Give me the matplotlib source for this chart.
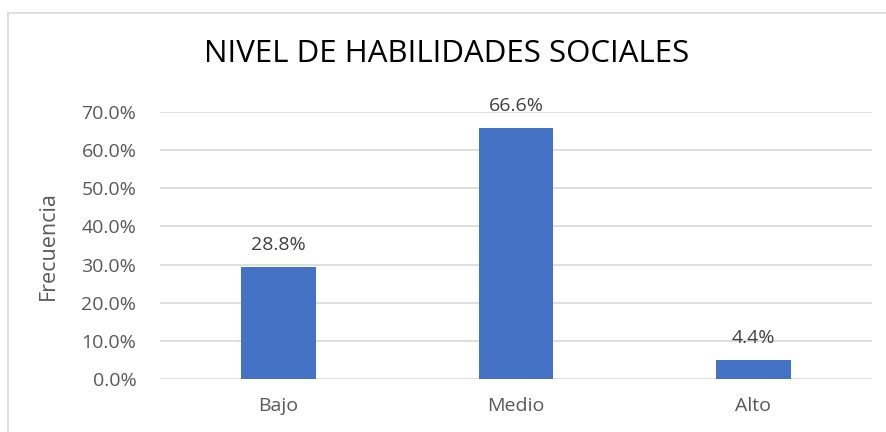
import numpy as np
import matplotlib.pyplot as plt
from matplotlib.lines import Line2D

categories = ['Bajo', 'Medio', 'Alto']
bar_values = [29.4, 65.9, 5.0]
bar_labels = ['28.8%', '66.6%', '4.4%']
yticks = [0, 10, 20, 30, 40, 50, 60, 70]

W, H = 887, 432
fig = plt.figure(figsize=(W / 100, H / 100), dpi=100)
plt.rcParams['font.family'] = ['Open Sans', 'DejaVu Sans']

# axes box in pixel coords: left 160, right 872, bottom(0%) 379, top(70%) 112
left, right, bottom, top = 160, 872, 379, 112
ax = fig.add_axes([left / W, 1 - bottom / H, (right - left) / W, (bottom - top) / H])

x = np.arange(len(categories))
ax.bar(x, bar_values, width=0.316, color='#4472C4', zorder=3)
for xi, v, lab in zip(x, bar_values, bar_labels):
    ax.annotate(lab, (xi, v), xytext=(0, 13), textcoords='offset pixels',
                ha='center', va='bottom', fontsize=14, color='#404040')

ax.set_xlim(-0.5, 2.5)
ax.set_ylim(0, 70)
ax.set_yticks(yticks)
ax.set_yticklabels(['%.1f%%' % t for t in yticks])
ax.set_xticks(x)
ax.set_xticklabels(categories)
ax.grid(axis='y', color='#D9D9D9', linewidth=1.2, zorder=0)
ax.tick_params(length=0, labelsize=14, labelcolor='#595959')
ax.tick_params(axis='y', pad=17)
ax.tick_params(axis='x', pad=13)
for s in ax.spines.values():
    s.set_visible(False)

ax.set_ylabel('Frecuencia', fontsize=15.5, color='#595959', labelpad=16)
fig.text(447 / W, 1 - 54 / H, 'NIVEL DE HABILIDADES SOCIALES', ha='center', va='center',
         fontsize=22.5, color='black')

# chart area border (only left and top edges are visible)
fig.add_artist(Line2D([8.5 / W, 8.5 / W], [0, 1 - 13 / H], transform=fig.transFigure,
                      color='#D9D9D9', linewidth=1.2))
fig.add_artist(Line2D([8.5 / W, 1], [1 - 13 / H, 1 - 13 / H], transform=fig.transFigure,
                      color='#D9D9D9', linewidth=1.2))

fig.savefig('out.png', dpi=100)
